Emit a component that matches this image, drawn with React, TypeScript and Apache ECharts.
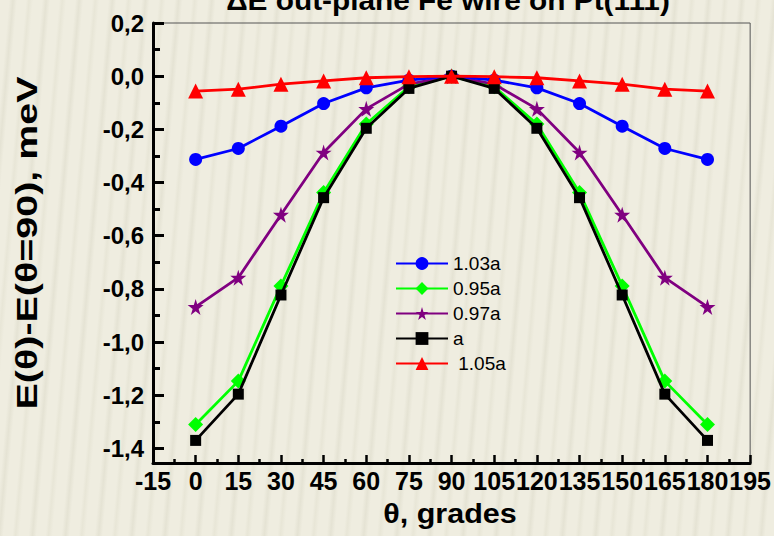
import React, { useEffect, useRef } from "react";
import * as echarts from "echarts";

const angles = [0, 15, 30, 45, 60, 75, 90, 105, 120, 135, 150, 165, 180];
const s103a = [-0.313, -0.272, -0.188, -0.103, -0.044, -0.015, 0, -0.015, -0.044, -0.103, -0.188, -0.272, -0.313];
const s095a = [-1.31, -1.147, -0.789, -0.438, -0.18, -0.04, 0, -0.04, -0.18, -0.438, -0.789, -1.147, -1.31];
const s097a = [-0.868, -0.758, -0.521, -0.287, -0.123, -0.03, 0, -0.03, -0.123, -0.287, -0.521, -0.758, -0.868];
const sA = [-1.37, -1.196, -0.823, -0.457, -0.196, -0.046, 0, -0.046, -0.196, -0.457, -0.823, -1.196, -1.37];
const s105a = [-0.056, -0.049, -0.03, -0.018, -0.006, -0.002, 0, -0.002, -0.006, -0.018, -0.03, -0.049, -0.056];

const yMajorTicks = [-1.4, -1.2, -1.0, -0.8, -0.6, -0.4, -0.2, 0.0, 0.2];
const yMinorTicks = [-1.3, -1.1, -0.9, -0.7, -0.5, -0.3, -0.1, 0.1];

const titleText = "ΔE out-plane Fe wire on Pt(111)";
const xName = "θ, grades";
const yName = "E(θ)-E(θ=90), meV";

const STAR = "path://M50,0 L61,35 L98,35 L68,57 L79,91 L50,70 L21,91 L32,57 L2,35 L39,35 Z";

const pairs = (vals: number[]) => angles.map((a, i) => [a, vals[i]]);

export default function App() {
  const ref = useRef<HTMLDivElement>(null);
  useEffect(() => {
    if (!ref.current) return;
    const chart = echarts.init(ref.current, null, { renderer: "svg" });
    const sans = '"Liberation Sans", Arial, sans-serif';
    const mk = (name: string, vals: number[], color: string, symbol: string, size: number, z: number) => ({
      name,
      type: "line",
      data: pairs(vals),
      symbol,
      symbolSize: size,
      z,
      lineStyle: { color, width: 2.8 },
      itemStyle: { color },
    });
    chart.setOption({
      animation: false,
      backgroundColor: "transparent",
      grid: {
        left: 153,
        right: 23,
        top: 23,
        bottom: 73,
        show: true,
        borderColor: "#555",
        borderWidth: 1,
        containLabel: false,
      },
      xAxis: {
        type: "value",
        min: -15,
        max: 195,
        interval: 15,
        axisLine: { show: true, onZero: false, lineStyle: { color: "#000", width: 3 } },
        axisTick: { show: true, inside: true, length: 8, lineStyle: { color: "#000", width: 2.5 } },
        minorTick: { show: true, splitNumber: 2, length: 4, lineStyle: { color: "#000", width: 2.5 } },
        splitLine: { show: false },
        axisLabel: {
          color: "#000",
          fontFamily: sans,
          fontWeight: "bold",
          fontSize: 25,
          margin: 5,
          showMinLabel: true,
          showMaxLabel: true,
          hideOverlap: false,
        },
      },
      yAxis: [
        {
          type: "value",
          min: -1.455,
          max: 0.2,
          axisLine: { show: true, onZero: false, lineStyle: { color: "#000", width: 3 } },
          axisTick: {
            show: true,
            inside: true,
            length: 11,
            customValues: yMajorTicks,
            lineStyle: { color: "#000", width: 3 },
          },
          splitLine: { show: false },
          axisLabel: {
            customValues: yMajorTicks,
            color: "#000",
            fontFamily: sans,
            fontWeight: "bold",
            fontSize: 24,
            margin: 9,
            formatter: (v: number) => v.toFixed(1).replace("-0.0", "0.0").replace(".", ","),
          },
        },
        {
          type: "value",
          position: "left",
          min: -1.455,
          max: 0.2,
          axisLine: { show: false, onZero: false },
          axisTick: {
            show: true,
            inside: true,
            length: 7,
            customValues: yMinorTicks,
            lineStyle: { color: "#000", width: 3 },
          },
          axisLabel: { show: false },
          splitLine: { show: false },
        },
      ],
      legend: {
        orient: "vertical",
        left: 390,
        top: 249,
        itemWidth: 52,
        itemHeight: 16,
        itemGap: 6,
        data: ["1.03a", "0.95a", "0.97a", "a", " 1.05a"],
        textStyle: { color: "#000", fontFamily: sans, fontSize: 19, padding: [0, 0, 0, 0] },
      },
      graphic: [
        {
          type: "text",
          x: 448,
          y: 14,
          scaleX: 1.065,
          style: {
            text: titleText,
            align: "center",
            textAlign: "center",
            verticalAlign: "bottom",
            textVerticalAlign: "bottom",
            font: 'bold 28px "Liberation Sans", Arial, sans-serif',
            fill: "#000",
          },
        },
        {
          type: "text",
          x: 450,
          y: 513,
          scaleX: 1.09,
          style: {
            text: xName,
            align: "center",
            textAlign: "center",
            verticalAlign: "middle",
            textVerticalAlign: "middle",
            font: 'bold 28px "Liberation Sans", Arial, sans-serif',
            fill: "#000",
          },
        },
        {
          type: "text",
          x: 27,
          y: 243,
          rotation: Math.PI / 2,
          scaleX: 1.36,
          style: {
            text: yName,
            align: "center",
            textAlign: "center",
            verticalAlign: "middle",
            textVerticalAlign: "middle",
            font: 'bold 29px "Liberation Sans", Arial, sans-serif',
            fill: "#000",
          },
        },
      ],
      series: [
        mk("1.03a", s103a, "#0000ff", "circle", 13, 4),
        mk("0.95a", s095a, "#00ff00", "diamond", 15, 2),
        mk("0.97a", s097a, "#800080", STAR, 16, 3),
        mk("a", sA, "#000000", "rect", 11, 5),
        mk(" 1.05a", s105a, "#ff0000", "triangle", 15, 6),
      ],
    });
    return () => chart.dispose();
  }, []);
  return (
    <div
      style={{
        position: "absolute",
        left: 0,
        top: 0,
        width: 774,
        height: 536,
        overflow: "hidden",
        background:
          "repeating-linear-gradient(95deg, #efede0 0px, #efede0 9px, #e5e3d4 13px, #efede0 17px, #efede0 26px, #e8e6d7 29px, #efede0 33px)",
      }}
    >
      <div ref={ref} style={{ width: 774, height: 536 }} />
    </div>
  );
}
